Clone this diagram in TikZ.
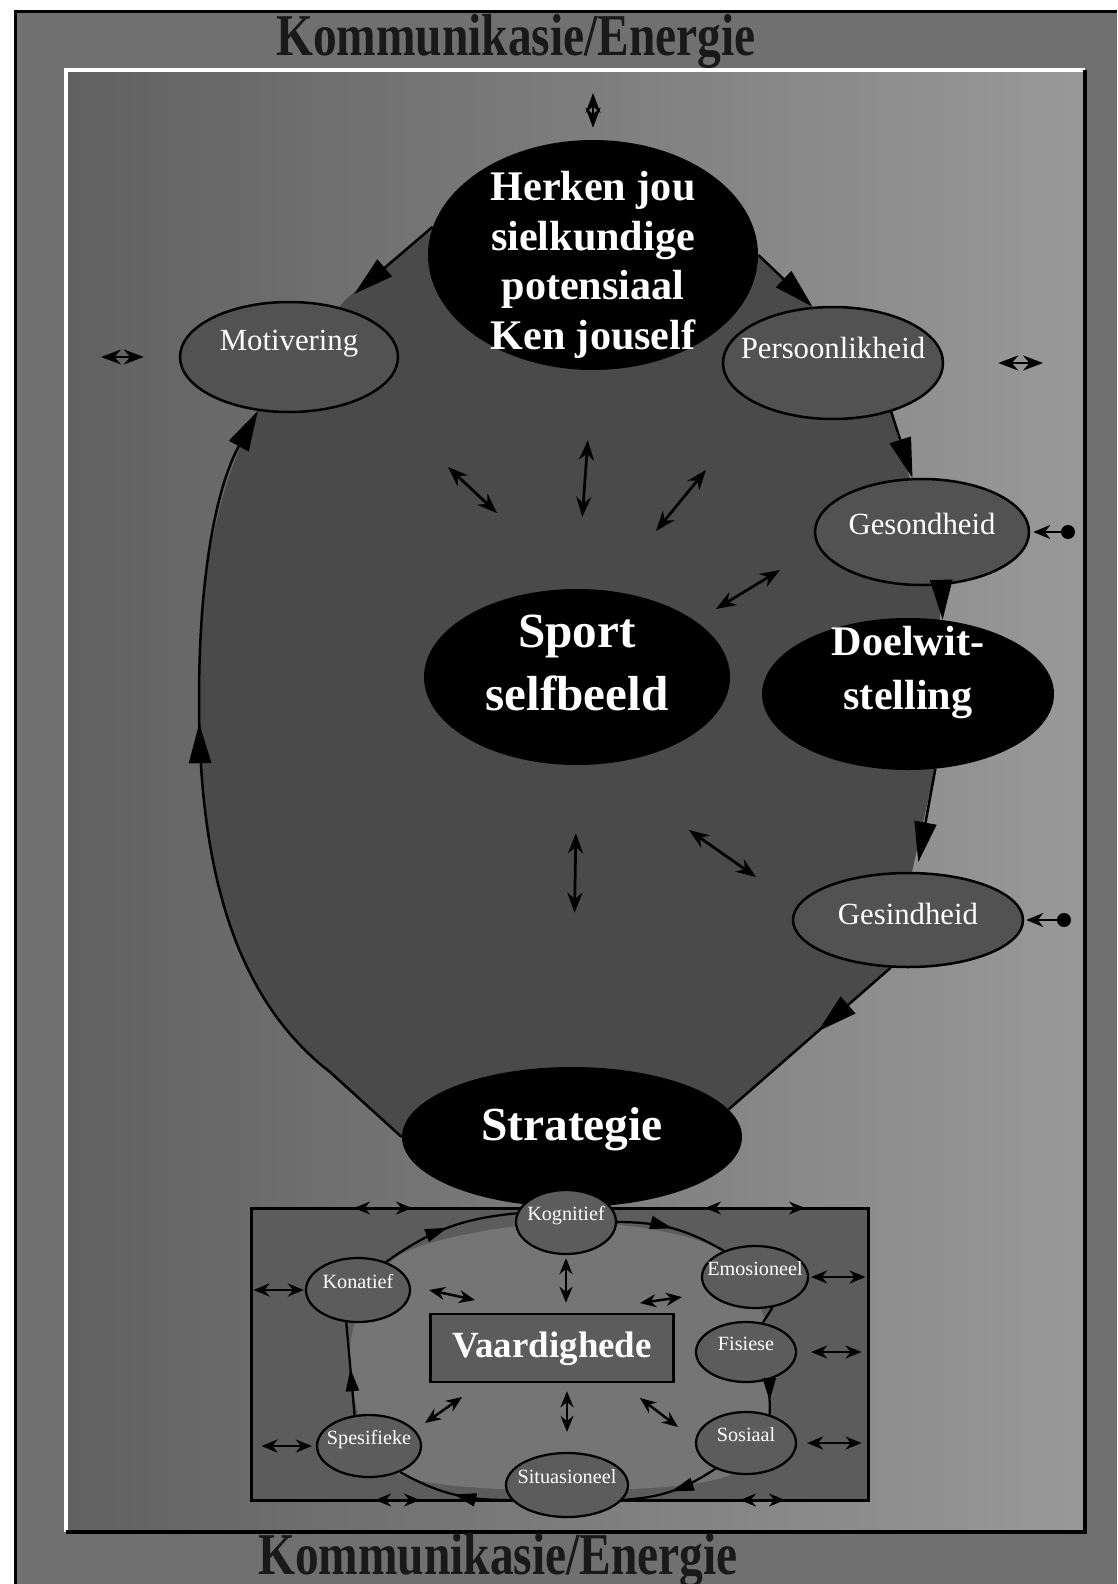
\documentclass[tikz,border=0pt]{standalone}
\usepackage{fontspec}
\usepackage{graphicx}
\setmainfont{Liberation Serif}
\usetikzlibrary{shapes.geometric,arrows.meta,decorations.markings}

% label of zero size, so the ellipses keep the size they are given
\newcommand{\lbl}[2][0pt]{\makebox[0pt]{\raisebox{#1}[0pt][0pt]{\begin{tabular}{@{}c@{}}#2\end{tabular}}}}

\tikzset{
  bignode/.style={ellipse, fill=black, text=white, inner sep=0pt},
  midnode/.style={ellipse, draw=black, line width=0.5mm, fill=black!68, text=white,
    inner sep=0pt, font=\fontsize{17.5}{18}\selectfont},
  subnode/.style={ellipse, draw=black, line width=0.45mm, fill=black!64, text=white,
    inner sep=0pt, font=\fontsize{11.5}{12}\selectfont},
  cycarrow/.style={line width=0.5mm, -{Triangle[length=8mm,width=4.4mm]}},
  cycmid/.style={line width=0.5mm, postaction={decorate}, decoration={markings,
    mark=at position #1 with {\arrow{Triangle[length=8mm,width=4.4mm]}}}},
  subcyc/.style={line width=0.45mm, postaction={decorate}, decoration={markings,
    mark=at position #1 with {\arrow{Triangle[length=4.5mm,width=2.6mm]}}}},
  twoway/.style={line width=0.55mm,
    {Stealth[length=4mm,width=3mm]}-{Stealth[length=4mm,width=3mm]}},
  subway/.style={line width=0.5mm,
    {Stealth[length=3.2mm,width=2.6mm]}-{Stealth[length=3.2mm,width=2.6mm]}},
  edgeway/.style={line width=0.5mm,
    {Stealth[length=3.4mm,width=2.8mm]}-{Circle[length=2.8mm]}},
  heading/.style={inner sep=0pt, text=black!90, font=\fontsize{27}{27}\selectfont\bfseries}
}

\begin{document}
\begin{tikzpicture}[x=0.2mm, y=-0.2mm]
\useasboundingbox (0,0) rectangle (1117,1584);

% paper, outer field and the inner frame
\fill[white] (0,0) rectangle (1117,1584);
\fill[black!56] (15,12) rectangle (1117,1584);
\draw[line width=0.6mm] (15,1584) -- (15,12) -- (1117,12);
\coordinate (fnw) at (66,70);
\coordinate (fse) at (1085,1532);
\shade[left color=black!62, right color=black!40] (fnw) rectangle (fse);
\draw[white, line width=0.7mm] (fse -| fnw) -- (fnw) -- (fnw -| fse);
\draw[line width=0.9mm] (fnw -| fse) -- (fse) -- (fse -| fnw);

% dark inside of the big cycle
\fill[black!71] (433,227) -- (345,300) -- (258,410) .. controls (215,490) and (199,580) .. (199,700)
  .. controls (199,900) and (250,1010) .. (330,1072) -- (402,1137) -- (728,1109) -- (891,966)
  -- (935,769) -- (941,584) -- (890,411) -- (813,308) -- (758,255) -- cycle;

\node[heading] (komtop) at (516,41) {\scalebox{1}[1.25]{Kommunikasie/Energie}};
\node[heading] (kombot) at (498,1560) {\scalebox{1}[1.25]{Kommunikasie/Energie}};

% big cycle
\node[bignode, minimum width=66mm, minimum height=46mm, font=\fontsize{24}{28.3}\selectfont\bfseries]
  (herken) at (593,255) {\lbl[-4.2mm]{Herken jou\\sielkundige\\potensiaal\\Ken jouself}};
\node[midnode, minimum width=43.6mm, minimum height=22mm] (motiv) at (289,357) {\lbl[1.1mm]{Motivering}};
\node[midnode, minimum width=44mm, minimum height=22.4mm] (perso) at (833,363) {\lbl[0.7mm]{Persoonlikheid}};
\node[midnode, minimum width=42.8mm, minimum height=21.2mm] (gesond) at (922,532) {\lbl[-0.7mm]{Gesondheid}};
\node[bignode, minimum width=61.2mm, minimum height=35.2mm, font=\fontsize{28}{36}\selectfont\bfseries]
  (sport) at (577,677) {\lbl{Sport\\selfbeeld}};
\node[bignode, minimum width=58.4mm, minimum height=30.4mm, font=\fontsize{24}{30.6}\selectfont\bfseries]
  (doelwit) at (908,694) {\lbl[2.2mm]{Doelwit-\\stelling}};
\node[midnode, minimum width=46mm, minimum height=18.8mm] (gesind) at (908,920) {\lbl[-1.1mm]{Gesindheid}};

% skills box
\node[draw, line width=0.6mm, fill=black!64, minimum width=123.2mm, minimum height=58.4mm, inner sep=0pt]
  (vbox) at (560,1354) {};
\fill[black!54] plot[smooth cycle] coordinates {(566,1222) (720,1250) (772,1352) (740,1470)
  (567,1490) (390,1470) (350,1350) (400,1255)};

\node[bignode, minimum width=68mm, minimum height=28mm, font=\fontsize{27}{27}\selectfont\bfseries]
  (strat) at (572,1137) {\lbl[-1mm]{Strategie}};

\node[draw, line width=0.5mm, fill=black!64, text=white, minimum width=48.6mm, minimum height=13.6mm,
  inner sep=0pt, font=\fontsize{21}{21}\selectfont\bfseries] (vaard) at (552,1348) {\lbl[-2.2mm]{Vaardighede}};
\node[subnode, minimum width=20mm, minimum height=12.8mm] (kog) at (566,1222) {\lbl{Kognitief}};
\node[subnode, minimum width=20.8mm, minimum height=12.8mm] (konat) at (358,1290) {\lbl{Konatief}};
\node[subnode, minimum width=21.2mm, minimum height=12.4mm] (emos) at (755,1277) {\lbl{Emosioneel}};
\node[subnode, minimum width=20mm, minimum height=12mm] (fis) at (746,1352) {\lbl{Fisiese}};
\node[subnode, minimum width=20.8mm, minimum height=12.4mm] (spes) at (369,1446) {\lbl{Spesifieke}};
\node[subnode, minimum width=20mm, minimum height=12.4mm] (sos) at (746,1443) {\lbl{Sosiaal}};
\node[subnode, minimum width=24.4mm, minimum height=12.8mm] (sit) at (567,1485) {\lbl{Situasioneel}};

% the cycle
\draw[cycarrow, shorten >=4mm] (herken.170) -- (motiv.45);
\draw[cycarrow] (herken.east) -- (perso.110);
\draw[cycarrow] (perso.-40) -- (gesond.100);
\draw[cycarrow] (gesond.-70) -- (doelwit.65);
\draw[cycarrow, shorten >=2mm] (doelwit.-70) -- (gesind.80);
\draw[cycmid=0.45] (gesind.-110) -- (strat.10);
\draw[cycmid=0.6, -{Triangle[length=8mm,width=4.4mm]}] (strat.west) -- (330,1072)
  .. controls (250,1010) and (199,900) .. (199,700) .. controls (199,580) and (215,490) .. (motiv.-120);

% links to the frame and to the centre
\draw[twoway, shorten <=4.6mm, shorten >=2.4mm] (herken.north |- fnw) -- (herken.north);
\draw[twoway, shorten <=7mm, shorten >=7mm] (motiv.west -| fnw) -- (motiv.west);
\draw[twoway, shorten <=10.8mm, shorten >=8.4mm] (perso.east) -- (perso.east -| fse);
\draw[edgeway, shorten <=0.6mm, shorten >=2mm] (gesond.east) -- (gesond.east -| fse);
\draw[edgeway, shorten <=0.4mm, shorten >=2.8mm] (gesind.east) -- (gesind.east -| fse);
\draw[twoway, shorten <=14mm, shorten >=14.4mm] (herken.south) -- (sport.north);
\draw[twoway, shorten <=13.6mm, shorten >=30.8mm] (sport.south) -- (strat.north);

\coordinate (d1a) at (448,467);
\coordinate (d1b) at (497,513);
\coordinate (d2a) at (706,470);
\coordinate (d2b) at (656,531);
\coordinate (d3a) at (780,570);
\coordinate (d3b) at (716,609);
\coordinate (d4a) at (689,830);
\coordinate (d4b) at (756,877);
\draw[twoway] (d1a) -- (d1b);
\draw[twoway] (d2a) -- (d2b);
\draw[twoway] (d3a) -- (d3b);
\draw[twoway] (d4a) -- (d4b);

% small cycle in the box
\draw[subcyc=0.5] (kog.east) to[bend left=15] (emos.140);
\draw[line width=0.45mm] (emos.-60) -- (fis.60);
\draw[subcyc=0.6] (fis.-50) -- (sos.50);
\draw[subcyc=0.5] (sos.-140) to[bend left=15] (sit.-15);
\draw[subcyc=0.5] (sit.-165) to[bend left=15] (spes.-40);
\draw[subcyc=0.5] (spes.115) -- (konat.-110);
\draw[subcyc=0.5] (konat.45) to[bend left=15] (kog.170);

\draw[subway, shorten <=0.6mm, shorten >=0.2mm] (konat.west -| vbox.west) -- (konat.west);
\draw[subway, shorten <=2.2mm, shorten >=0.8mm] (spes.west -| vbox.west) -- (spes.west);
\draw[subway, shorten <=0.4mm, shorten >=0.8mm] (emos.east) -- (emos.east -| vbox.east);
\draw[subway, shorten <=2.8mm, shorten >=1.6mm] (fis.east) -- (fis.east -| vbox.east);
\draw[subway, shorten <=2mm, shorten >=1.6mm] (sos.east) -- (sos.east -| vbox.east);
\draw[subway, shorten <=0.6mm, shorten >=2mm] (kog.south) -- (kog.south |- vaard.north);
\draw[subway, shorten <=1.6mm, shorten >=4mm] (vaard.south -| sit.north) -- (sit.north);

\coordinate (b1a) at (429,1290);
\coordinate (b1b) at (475,1300);
\coordinate (b2a) at (682,1297);
\coordinate (b2b) at (640,1303);
\coordinate (b3a) at (462,1397);
\coordinate (b3b) at (425,1423);
\coordinate (b4a) at (640,1398);
\coordinate (b4b) at (678,1427);
\coordinate (b5a) at (354,1208);
\coordinate (b5b) at (412,1208);
\coordinate (b6a) at (705,1208);
\coordinate (b6b) at (805,1208);
\coordinate (b7a) at (375,1500);
\coordinate (b7b) at (420,1500);
\coordinate (b8a) at (740,1500);
\coordinate (b8b) at (785,1500);
\draw[subway] (b1a) -- (b1b);
\draw[subway] (b2a) -- (b2b);
\draw[subway] (b3a) -- (b3b);
\draw[subway] (b4a) -- (b4b);
\draw[subway] (b5a) -- (b5b);
\draw[subway] (b6a) -- (b6b);
\draw[subway] (b7a) -- (b7b);
\draw[subway] (b8a) -- (b8b);
\end{tikzpicture}
\end{document}
